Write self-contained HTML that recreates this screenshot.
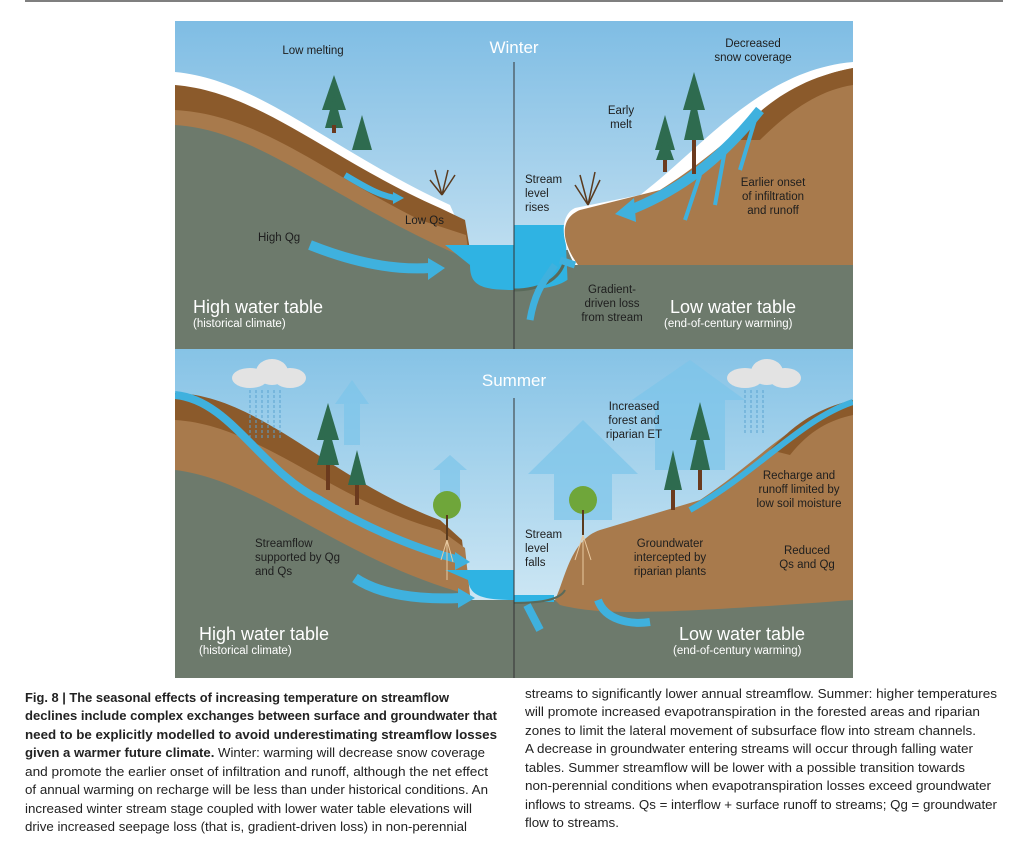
<!DOCTYPE html>
<html><head><meta charset="utf-8"><style>
html,body{margin:0;padding:0;background:#fff;width:1023px;height:847px;overflow:hidden}
svg{display:block}
.l{font-family:"Liberation Sans",sans-serif;font-size:11.5px;fill:#1e1e1e}
.big{font-family:"Liberation Sans",sans-serif;font-size:18px;fill:#fff}
.sm{font-family:"Liberation Sans",sans-serif;font-size:11.5px;fill:#fff}
.cap{font-family:"Liberation Sans",sans-serif;font-size:13px;fill:#222}
</style></head><body>
<svg width="1023" height="847" viewBox="0 0 1023 847">
<defs>
<linearGradient id="sky" x1="0" y1="0" x2="0" y2="1"><stop offset="0" stop-color="#7fbde4"/><stop offset="1" stop-color="#d8ebf5"/></linearGradient>
<linearGradient id="sky2" x1="0" y1="0" x2="0" y2="1"><stop offset="0" stop-color="#86c3e6"/><stop offset="1" stop-color="#e2f1f8"/></linearGradient>
<clipPath id="c1"><rect x="175" y="21" width="678" height="328"/></clipPath>
<clipPath id="c2"><rect x="175" y="349" width="678" height="329"/></clipPath>
</defs>
<line x1="25" y1="1" x2="1003" y2="1" stroke="#555" stroke-width="1.5"/>

<!-- WINTER -->
<g clip-path="url(#c1)">
<rect x="175" y="21" width="678" height="328" fill="url(#sky)"/>
<rect x="175" y="250" width="678" height="99" fill="#6d7a6c"/>
<!-- left hill -->
<path d="M175,72 C260,80 330,150 450,205 L470,250 L470,349 L175,349Z" fill="#fff"/>
<path d="M175,85 C260,92 330,160 440,208 L465,220 L470,250 L470,349 L175,349Z" fill="#8b5a2b"/>
<path d="M175,110 C260,115 320,170 420,220 L466,235 L470,262 L470,349 L175,349Z" fill="#a87a4c"/>
<path d="M175,125 C260,130 330,200 470,260 L470,349 L175,349Z" fill="#6d7a6c"/>
<!-- stream left -->
<path d="M445,245 L514,245 L514,290 C480,290 470,285 470,265 Z" fill="#2fb3e3"/>
<!-- right side -->
<path d="M514,225 L565,225 L568,290 L514,290Z" fill="#2fb3e3"/>
<path d="M853,62 C760,70 700,150 640,195 L575,208 C560,215 560,240 575,265 L853,265Z" fill="#fff"/>
<path d="M853,68 C780,80 740,140 660,190 L580,210 C560,218 560,240 578,265 L600,290 L853,290Z" fill="#a87a4c"/>
<path d="M853,68 C790,80 760,110 730,140 L760,140 C790,110 820,90 853,85Z" fill="#8b5a2b"/>
<path d="M575,265 C640,265 760,265 853,265 L853,349 L514,349 L514,290 C560,290 575,280 575,265Z" fill="#6d7a6c"/>
<path d="M514,290 C540,290 560,280 565,260" stroke="#5a6a5a" stroke-width="3" fill="none"/>
<!-- arrows -->
<path d="M310,245 C360,265 400,270 430,268" stroke="#3fb1de" stroke-width="10" fill="none"/>
<polygon points="428,258 445,268 428,280" fill="#3fb1de"/>
<path d="M345,175 C370,190 380,195 395,198" stroke="#3fb1de" stroke-width="6" fill="none"/>
<polygon points="393,192 404,198 393,204" fill="#3fb1de"/>
<path d="M760,110 C720,160 680,190 630,210" stroke="#3fb1de" stroke-width="10" fill="none"/>
<polygon points="634,198 615,214 636,222" fill="#3fb1de"/>
<path d="M755,120 L740,170 M725,150 L715,205 M700,175 L685,220" stroke="#3fb1de" stroke-width="4" fill="none"/>
<path d="M555,265 C545,280 535,290 530,320 M560,260 L575,265" stroke="#3fb1de" stroke-width="7" fill="none"/>
<!-- trees -->
<g fill="#2e6b4f"><polygon points="334,75 322,110 346,110"/><polygon points="334,95 325,128 343,128"/><rect x="332" y="125" width="4" height="8" fill="#6b3a1e"/>
<polygon points="362,115 352,150 372,150"/>
<polygon points="694,72 683,110 705,110"/><polygon points="694,95 684,140 704,140"/><rect x="692" y="140" width="4" height="34" fill="#6b3a1e"/>
<polygon points="665,115 655,150 675,150"/><polygon points="665,135 656,160 674,160"/><rect x="663" y="160" width="4" height="12" fill="#6b3a1e"/></g>
<path d="M442,195 L435,170 M442,195 L448,170 M442,195 L455,175 M442,195 L430,180" stroke="#5a3a1e" stroke-width="1.5"/>
<path d="M588,205 L580,175 M588,205 L595,172 M588,205 L600,180 M588,205 L575,185" stroke="#5a3a1e" stroke-width="1.5"/>
</g>
<line x1="514" y1="62" x2="514" y2="349" stroke="#333" stroke-width="1"/>
<text x="514" y="53" text-anchor="middle" class="big" style="font-size:17px">Winter</text>
<text x="313" y="54" text-anchor="middle" class="l">Low melting</text>
<text x="753" y="47" text-anchor="middle" class="l">Decreased</text><text x="753" y="61" text-anchor="middle" class="l">snow coverage</text>
<text x="621" y="114" text-anchor="middle" class="l">Early</text><text x="621" y="128" text-anchor="middle" class="l">melt</text>
<text x="525" y="183" class="l">Stream</text><text x="525" y="197" class="l">level</text><text x="525" y="211" class="l">rises</text>
<text x="773" y="186" text-anchor="middle" class="l">Earlier onset</text><text x="773" y="200" text-anchor="middle" class="l">of infiltration</text><text x="773" y="214" text-anchor="middle" class="l">and runoff</text>
<text x="405" y="224" class="l">Low Qs</text>
<text x="258" y="241" class="l">High Qg</text>
<text x="612" y="293" text-anchor="middle" class="l">Gradient-</text><text x="612" y="307" text-anchor="middle" class="l">driven loss</text><text x="612" y="321" text-anchor="middle" class="l">from stream</text>
<text x="193" y="313" class="big">High water table</text><text x="193" y="327" class="sm">(historical climate)</text>
<text x="670" y="313" class="big">Low water table</text><text x="664" y="327" class="sm">(end-of-century warming)</text>

<!-- SUMMER -->
<g clip-path="url(#c2)">
<rect x="175" y="349" width="678" height="329" fill="url(#sky2)"/>
<rect x="175" y="600" width="678" height="78" fill="#6d7a6c"/>
<!-- ET arrows -->
<polygon points="335,404 352,380 369,404 360,404 360,445 344,445 344,404" fill="#7cc4ea" opacity=".7"/>
<polygon points="433,470 450,455 467,470 460,470 460,500 440,500 440,470" fill="#7cc4ea" opacity=".7"/>
<polygon points="528,474 583,420 638,474 612,474 612,520 554,520 554,474" fill="#7cc4ea" opacity=".7"/>
<polygon points="632,400 690,360 745,400 725,400 725,470 655,470 655,400" fill="#7cc4ea" opacity=".7"/>
<!-- left hill -->
<path d="M175,393 C260,395 330,480 440,520 L462,540 L468,590 L468,678 L175,678Z" fill="#8b5a2b"/>
<path d="M175,420 C260,425 330,500 440,530 L465,548 L470,595 L470,678 L175,678Z" fill="#a87a4c"/>
<path d="M175,470 C260,480 340,560 470,595 L470,678 L175,678Z" fill="#6d7a6c"/>
<path d="M175,395 C230,400 260,470 320,500 C370,530 420,550 460,560" stroke="#3fb1de" stroke-width="8" fill="none"/>
<polygon points="455,552 470,562 455,570" fill="#3fb1de"/>
<path d="M355,578 C380,595 420,600 460,598" stroke="#3fb1de" stroke-width="10" fill="none"/>
<polygon points="458,588 475,598 458,608" fill="#3fb1de"/>
<!-- stream -->
<path d="M445,570 L514,570 L514,600 C480,600 470,595 468,580Z" fill="#2fb3e3"/>
<rect x="514" y="595" width="40" height="7" fill="#2fb3e3"/>
<!-- right hill -->
<path d="M853,400 C790,420 760,460 700,500 L600,530 C570,540 565,580 555,600 L560,605 C600,615 650,615 853,600Z" fill="#a87a4c"/>
<path d="M853,400 C810,410 790,430 770,450 L790,455 C810,430 830,420 853,415Z" fill="#8b5a2b"/>
<path d="M853,402 C800,420 760,470 690,510" stroke="#3fb1de" stroke-width="6" fill="none"/>
<path d="M514,603 C540,603 560,600 565,590" stroke="#5a6a5a" stroke-width="2" fill="none"/>
<path d="M527,605 L540,630 M598,600 C605,620 630,625 650,622" stroke="#3fb1de" stroke-width="8" fill="none"/>
<!-- clouds -->
<g fill="#e3e3e3"><ellipse cx="250" cy="378" rx="18" ry="10"/><ellipse cx="272" cy="372" rx="16" ry="13"/><ellipse cx="290" cy="378" rx="16" ry="10"/>
<ellipse cx="745" cy="378" rx="18" ry="10"/><ellipse cx="767" cy="372" rx="16" ry="13"/><ellipse cx="785" cy="378" rx="16" ry="10"/></g>
<g stroke="#5aa3d0" stroke-width="1" stroke-dasharray="3 2">
<path d="M250,390 v50 M256,390 v50 M262,390 v50 M268,390 v50 M274,390 v50 M280,390 v50 M745,390 v45 M751,390 v45 M757,390 v45 M763,390 v45"/></g>
<!-- trees -->
<g fill="#2e6b4f"><polygon points="328,403 317,440 339,440"/><polygon points="328,425 317,465 339,465"/><rect x="326" y="465" width="4" height="25" fill="#6b3a1e"/>
<polygon points="357,450 348,485 366,485"/><rect x="355" y="485" width="4" height="20" fill="#6b3a1e"/>
<polygon points="700,402 690,440 710,440"/><polygon points="700,425 690,470 710,470"/><rect x="698" y="470" width="4" height="20" fill="#6b3a1e"/>
<polygon points="673,450 664,490 682,490"/><rect x="671" y="490" width="4" height="20" fill="#6b3a1e"/></g>
<g fill="#6fa63a"><circle cx="447" cy="505" r="14"/><circle cx="583" cy="500" r="14"/></g>
<path d="M447,515 v25 M583,510 v25" stroke="#5a3a1e" stroke-width="2"/>
<path d="M447,540 l-6,20 M447,540 l6,22 M447,540 v40 M583,535 l-8,25 M583,535 l8,25 M583,535 v50" stroke="#e8c9a0" stroke-width="1"/>
</g>
<line x1="514" y1="398" x2="514" y2="678" stroke="#333" stroke-width="1"/>
<text x="514" y="386" text-anchor="middle" class="big" style="font-size:17px">Summer</text>
<text x="634" y="410" text-anchor="middle" class="l">Increased</text><text x="634" y="424" text-anchor="middle" class="l">forest and</text><text x="634" y="438" text-anchor="middle" class="l">riparian ET</text>
<text x="799" y="479" text-anchor="middle" class="l">Recharge and</text><text x="799" y="493" text-anchor="middle" class="l">runoff limited by</text><text x="799" y="507" text-anchor="middle" class="l">low soil moisture</text>
<text x="255" y="547" class="l">Streamflow</text><text x="255" y="561" class="l">supported by Qg</text><text x="255" y="575" class="l">and Qs</text>
<text x="525" y="538" class="l">Stream</text><text x="525" y="552" class="l">level</text><text x="525" y="566" class="l">falls</text>
<text x="670" y="547" text-anchor="middle" class="l">Groundwater</text><text x="670" y="561" text-anchor="middle" class="l">intercepted by</text><text x="670" y="575" text-anchor="middle" class="l">riparian plants</text>
<text x="807" y="554" text-anchor="middle" class="l">Reduced</text><text x="807" y="568" text-anchor="middle" class="l">Qs and Qg</text>
<text x="199" y="640" class="big">High water table</text><text x="199" y="654" class="sm">(historical climate)</text>
<text x="679" y="640" class="big">Low water table</text><text x="673" y="654" class="sm">(end-of-century warming)</text>

<!-- caption -->
<g class="cap">
<text x="25" y="702" textLength="424" lengthAdjust="spacingAndGlyphs" font-weight="bold">Fig. 8 | The seasonal effects of increasing temperature on streamflow</text>
<text x="25" y="720" textLength="472" lengthAdjust="spacingAndGlyphs" font-weight="bold">declines include complex exchanges between surface and groundwater that</text>
<text x="25" y="739" textLength="472" lengthAdjust="spacingAndGlyphs" font-weight="bold">need to be explicitly modelled to avoid underestimating streamflow losses</text>
<text x="25" y="757" textLength="460" lengthAdjust="spacingAndGlyphs"><tspan font-weight="bold">given a warmer future climate.</tspan> Winter: warming will decrease snow coverage</text>
<text x="25" y="776" textLength="463" lengthAdjust="spacingAndGlyphs">and promote the earlier onset of infiltration and runoff, although the net effect</text>
<text x="25" y="794" textLength="463" lengthAdjust="spacingAndGlyphs">of annual warming on recharge will be less than under historical conditions. An</text>
<text x="25" y="813" textLength="447" lengthAdjust="spacingAndGlyphs">increased winter stream stage coupled with lower water table elevations will</text>
<text x="25" y="831" textLength="442" lengthAdjust="spacingAndGlyphs">drive increased seepage loss (that is, gradient-driven loss) in non-perennial</text>
<text x="525" y="698" textLength="472" lengthAdjust="spacingAndGlyphs">streams to significantly lower annual streamflow. Summer: higher temperatures</text>
<text x="525" y="716" textLength="455" lengthAdjust="spacingAndGlyphs">will promote increased evapotranspiration in the forested areas and riparian</text>
<text x="525" y="735" textLength="451" lengthAdjust="spacingAndGlyphs">zones to limit the lateral movement of subsurface flow into stream channels.</text>
<text x="525" y="753" textLength="448" lengthAdjust="spacingAndGlyphs">A decrease in groundwater entering streams will occur through falling water</text>
<text x="525" y="772" textLength="440" lengthAdjust="spacingAndGlyphs">tables. Summer streamflow will be lower with a possible transition towards</text>
<text x="525" y="790" textLength="466" lengthAdjust="spacingAndGlyphs">non-perennial conditions when evapotranspiration losses exceed groundwater</text>
<text x="525" y="809" textLength="472" lengthAdjust="spacingAndGlyphs">inflows to streams. Qs = interflow + surface runoff to streams; Qg = groundwater</text>
<text x="525" y="827" textLength="94" lengthAdjust="spacingAndGlyphs">flow to streams.</text>
</g>
</svg>
</body></html>
